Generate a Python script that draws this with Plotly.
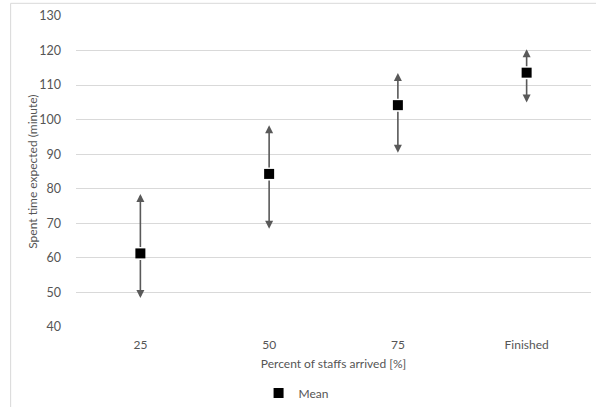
import plotly.graph_objects as go

categories = ["25", "50", "75", "Finished"]
mean_vals = [61.3, 84.3, 104.2, 113.6]
upper_vals = [78.5, 98.4, 113.5, 120.4]
lower_vals = [48.4, 68.4, 90.4, 105.0]
y_ticks = [40, 50, 60, 70, 80, 90, 100, 110, 120, 130]

W, H = 596, 407
ml, mr, mt, mb = 75.5, 4.5, 15.7, 80.3
pw, ph = W - ml - mr, H - mt - mb

grey = "#555555"
font = "Lato, Open Sans, sans-serif"
xpos = list(range(len(categories)))

fig = go.Figure()
fig.add_trace(go.Scatter(
    x=xpos, y=mean_vals, mode="markers", name="Mean",
    marker=dict(symbol="square", size=10, color="black"),
))

for xi, m, u, l in zip(xpos, mean_vals, upper_vals, lower_vals):
    for tip in (u, l):
        fig.add_annotation(
            x=xi, y=tip, ax=xi, ay=m, xref="x", yref="y", axref="x", ayref="y",
            text="", showarrow=True, arrowhead=2, arrowsize=1.0, arrowwidth=1.6,
            arrowcolor="#595959", startstandoff=5,
        )

# y-axis title placed as annotation next to tick labels
fig.add_annotation(
    text="Spent time expected (minute)", textangle=-90,
    xref="paper", yref="paper", x=(31.7 - ml) / pw, y=0.5,
    xanchor="center", yanchor="middle", showarrow=False,
    font=dict(size=12, color=grey),
)

# outer chart frame
fig.add_shape(type="rect", xref="paper", yref="paper",
              x0=(10 - ml) / pw, x1=(W + 5 - ml) / pw,
              y0=-(H + 5 - mt - ph) / ph,
              y1=1 + (mt - 3) / ph,
              line=dict(color="#d9d9d9", width=1), fillcolor="rgba(0,0,0,0)", layer="above")

fig.update_layout(
    width=W, height=H,
    margin=dict(l=ml, r=mr, t=mt, b=mb, pad=0, autoexpand=False),
    paper_bgcolor="white", plot_bgcolor="white",
    font=dict(family=font, size=12, color=grey),
    showlegend=True,
    legend=dict(orientation="h", x=(296 - ml) / pw, xanchor="center",
                y=-(392.7 - mt - ph) / ph, yanchor="middle",
                font=dict(size=12, color=grey), itemwidth=30),
    xaxis=dict(
        tickmode="array", tickvals=xpos, ticktext=categories,
        range=[-0.5, len(categories) - 0.5], showgrid=False, zeroline=False,
        showline=False, ticks="", tickfont=dict(size=12, color=grey),
        automargin=False, ticklabelstandoff=9,
        title=dict(text="Percent of staffs arrived [%]", font=dict(size=12, color=grey), standoff=8),
    ),
    yaxis=dict(
        range=[40, 130], tickmode="array", tickvals=y_ticks,
        showgrid=True, gridcolor="#d9d9d9", gridwidth=1, zeroline=False,
        showline=False, ticks="", ticklabelstandoff=14, automargin=False,
        tickfont=dict(size=12.5, color=grey),
    ),
)

fig.write_html("out.html", config={"displayModeBar": False},
               post_script="document.body.style.margin='0';")
